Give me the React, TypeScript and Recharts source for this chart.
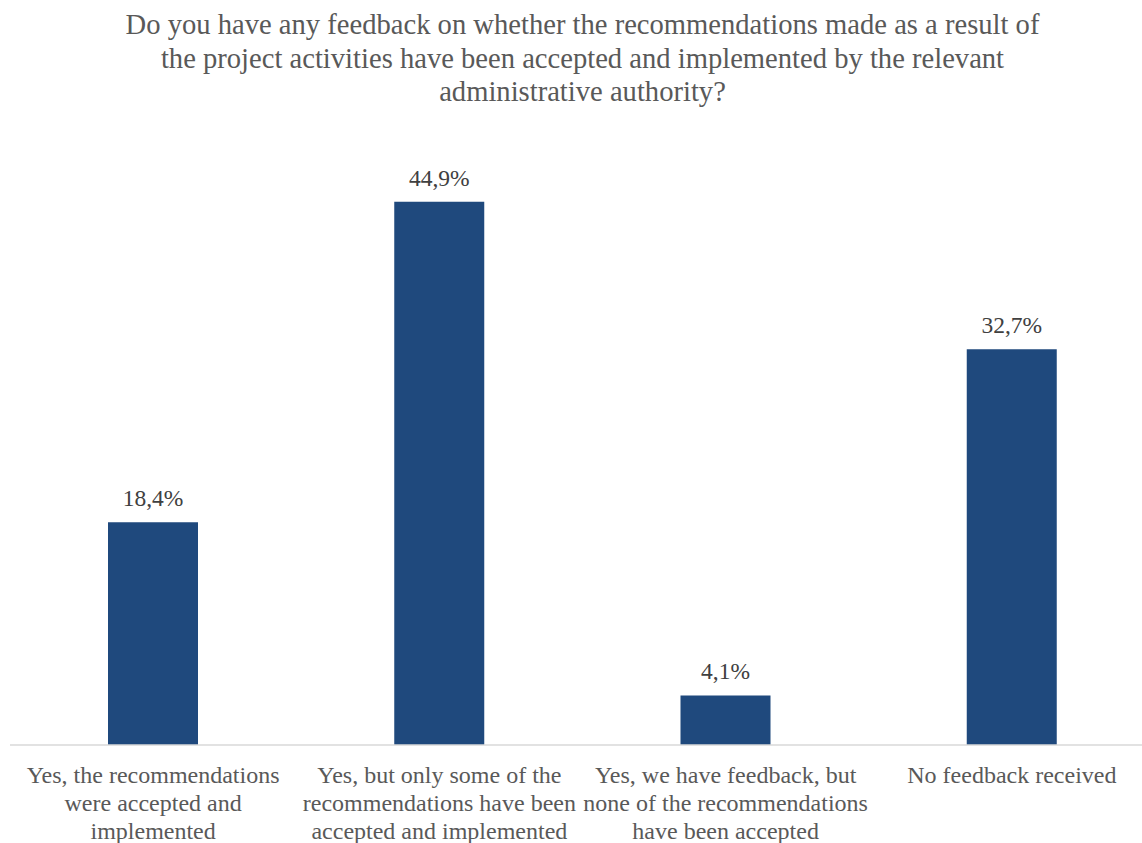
import React from "react";
import { BarChart, Bar, XAxis, YAxis, LabelList } from "recharts";

const categories = [
  "Yes, the recommendations were accepted and implemented",
  "Yes, but only some of the recommendations have been accepted and implemented",
  "Yes, we have feedback, but none of the recommendations have been accepted",
  "No feedback received",
];
const tickLines: string[][] = [
  ["Yes, the recommendations", "were accepted and", "implemented"],
  ["Yes, but only some of the", "recommendations have been", "accepted and implemented"],
  ["Yes, we have feedback, but", "none of the recommendations", "have been accepted"],
  ["No feedback received"],
];
const values = [18.4, 44.9, 4.1, 32.7];
const titleLines = [
  "Do you have any feedback on whether the recommendations made as a result of",
  "the project activities have been accepted and implemented by the relevant",
  "administrative authority?",
];

const data = categories.map((c, i) => ({ name: c, idx: i, value: values[i] }));

const FONT = '"Liberation Serif", "Times New Roman", serif';

const Tick = (props: any) => {
  const { x, y, payload } = props;
  const lines = tickLines[payload.index] || [String(payload.value)];
  return (
    <text x={x} y={y} textAnchor="middle" fontFamily={FONT} fontSize={24} fill="#595959">
      {lines.map((l, i) => (
        <tspan key={i} x={x} y={y + 29.5 + i * 28}>
          {l}
        </tspan>
      ))}
    </text>
  );
};

export default function App() {
  return (
    <div style={{ position: "absolute", left: 0, top: 0, width: 1142, height: 843, overflow: "hidden", background: "#fff" }}>
      <div
        style={{
          position: "absolute",
          left: 0,
          top: 8,
          width: 1165,
          textAlign: "center",
          fontFamily: FONT,
          fontSize: 28.6,
          lineHeight: "33.5px",
          color: "#595959",
        }}
      >
        {titleLines.map((l, i) => (
          <div key={i} style={{ whiteSpace: "nowrap" }}>{l}</div>
        ))}
      </div>
      <BarChart
        width={1160}
        height={843}
        data={data}
        margin={{ top: 140, right: 5, left: 10, bottom: 8 }}
      >
        <XAxis
          dataKey="name"
          height={90}
          tickLine={false}
          axisLine={{ stroke: "#d9d9d9", strokeWidth: 1.5 }}
          tick={<Tick />}
          interval={0}
        />
        <YAxis hide domain={[0, 50]} />
        <Bar dataKey="value" fill="#1F497D" barSize={90} isAnimationActive={false}>
          <LabelList
            dataKey="value"
            position="top"
            offset={16}
            formatter={(v: any) => Number(v).toFixed(1).replace(".", ",") + "%"}
            style={{ fontFamily: FONT, fontSize: 23.5, fill: "#404040" }}
          />
        </Bar>
      </BarChart>
    </div>
  );
}
